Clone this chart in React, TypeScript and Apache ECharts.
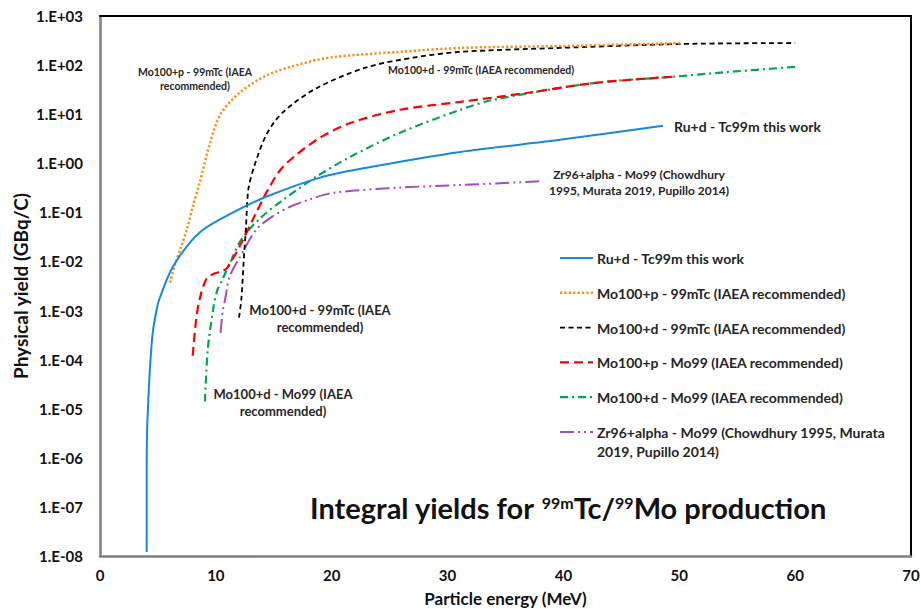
import React, { useEffect, useRef } from "react";
import * as echarts from "echarts";

// ---------- data ----------
const xTicks = [0, 10, 20, 30, 40, 50, 60, 70];
const yExponents = [-8, -7, -6, -5, -4, -3, -2, -1, 0, 1, 2, 3];

const seriesNames = [
  "Ru+d - Tc99m this work",
  "Mo100+p - 99mTc (IAEA recommended)",
  "Mo100+d - 99mTc (IAEA recommended)",
  "Mo100+p - Mo99 (IAEA recommended)",
  "Mo100+d - Mo99 (IAEA recommended)",
  "Zr96+alpha - Mo99 (Chowdhury 1995, Murata 2019, Pupillo 2014)",
];
const legendLabels = [
  "Ru+d - Tc99m this work",
  "Mo100+p - 99mTc (IAEA recommended)",
  "Mo100+d - 99mTc (IAEA recommended)",
  "Mo100+p - Mo99 (IAEA recommended)",
  "Mo100+d - Mo99 (IAEA recommended)",
  "Zr96+alpha - Mo99 (Chowdhury 1995, Murata\n2019, Pupillo 2014)",
];

const ruEnergy = [4.03, 4.03, 4.06, 4.17, 4.32, 4.55, 4.89, 5.12, 6.3, 8.6, 11.5, 14.4, 19.0, 23.0, 31.1, 39.7, 48.6];
const ruYield = [1.2e-8, 5e-7, 3.3e-6, 1.5e-5, 7.2e-5, 3.5e-4, 1.05e-3, 1.7e-3, 7.9e-3, 0.039, 0.1, 0.21, 0.51, 0.81, 1.7, 3.0, 5.8];

const moPTcEnergy = [6.04, 6.5, 7.0, 7.5, 8.0, 8.6, 9.5, 10.4, 12.1, 14.4, 17.3, 20.1, 25.9, 31.1, 40.0, 50.1];
const moPTcYield = [0.0037, 0.009, 0.02, 0.045, 0.13, 0.4, 2.6, 10, 28, 62, 105, 145, 186, 224, 245, 280];

const moDTcEnergy = [12.0, 12.2, 12.4, 12.6, 12.8, 13.3, 14.4, 15.8, 18.7, 23.0, 27.3, 31.1, 39.7, 50.1, 60.0];
const moDTcYield = [7.2e-4, 1.7e-3, 0.01, 0.05, 0.29, 0.85, 4.0, 11, 34, 90, 145, 186, 224, 269, 282];

const moPMoEnergy = [8.0, 8.3, 8.6, 9.2, 9.8, 10.5, 11.0, 12.2, 13.3, 14.5, 15.8, 18.7, 21.6, 25.9, 31.1, 36.8, 42.6, 49.5];
const moPMoYield = [1.2e-4, 6.6e-4, 1.7e-3, 4.5e-3, 5.6e-3, 6.3e-3, 7.5e-3, 0.024, 0.08, 0.29, 0.85, 3.0, 6.6, 12.3, 17.8, 27, 43, 58];

const moDMoEnergy = [9.06, 9.3, 9.8, 10.1, 10.5, 11.2, 12.2, 13.8, 15.8, 18.7, 21.6, 25.9, 31.1, 33.9, 42.6, 49.5, 54.1, 60.0];
const moDMoYield = [1.4e-5, 1.6e-4, 1.2e-3, 2.5e-3, 4e-3, 9e-3, 0.028, 0.075, 0.18, 0.54, 1.35, 4.2, 12.3, 19.5, 43, 58, 72, 92];

const zrEnergy = [10.4, 10.6, 10.8, 11.2, 12.1, 13.5, 14.9, 16.4, 18.0, 20.1, 25.9, 31.1, 38.1];
const zrYield = [3.5e-4, 1.0e-3, 1.7e-3, 5e-3, 0.0126, 0.045, 0.083, 0.13, 0.18, 0.25, 0.32, 0.36, 0.43];

// ---------- styles ----------
const FONT = "Lato, 'Open Sans', sans-serif";
const TEXT = "#111111";
const styles = [
  { color: "#1689DB", width: 2, dash: "solid" as any },
  { color: "#FF8C1A", width: 2.5, dash: [2.2, 2.2] },
  { color: "#000000", width: 1.8, dash: [5, 3.5] },
  { color: "#FF0000", width: 2.2, dash: [9, 5] },
  { color: "#00A651", width: 2.2, dash: [8, 4, 2, 4] },
  { color: "#A24BC4", width: 2, dash: [14, 4, 2, 4, 2, 4] },
];

const allEnergy = [ruEnergy, moPTcEnergy, moDTcEnergy, moPMoEnergy, moDMoEnergy, zrEnergy];
const allYield = [ruYield, moPTcYield, moDTcYield, moPMoYield, moDMoYield, zrYield];

function expLabel(v: number) {
  const e = Math.round(v);
  const s = e >= 0 ? "+" : "-";
  return "1.E" + s + String(Math.abs(e)).padStart(2, "0");
}

export default function App() {
  const ref = useRef<HTMLDivElement>(null);
  useEffect(() => {
    if (!ref.current) return;
    const chart = echarts.init(ref.current, null, { renderer: "svg" });

    const series = seriesNames.map((name, i) => ({
      name,
      type: "line",
      xAxisIndex: 0,
      yAxisIndex: 0,
      showSymbol: false,
      symbol: "none",
      smooth: 0.3,
      clip: true,
      lineStyle: { color: styles[i].color, width: styles[i].width, type: styles[i].dash },
      data: allEnergy[i].map((e, k) => [e, Math.log10(allYield[i][k])]),
      z: 3 + (5 - i),
    }));

    const legendTop = 258;
    const legendStep = 34.8;
    const legendGraphics: any[] = [];
    legendLabels.forEach((lab, i) => {
      const y = legendTop + i * legendStep;
      legendGraphics.push({
        type: "line",
        shape: { x1: 560, y1: y, x2: 593, y2: y },
        style: {
          stroke: styles[i].color,
          lineWidth: styles[i].width,
          lineDash: Array.isArray(styles[i].dash) ? styles[i].dash : null,
        },
      });
      legendGraphics.push({
        type: "text",
        x: 597,
        y: y - 9,
        style: {
          text: lab,
          font: `bold 14px ${FONT}`,
          fill: "#262626",
          lineHeight: 19,
          align: "left",
          verticalAlign: "top",
          textAlign: "left",
          textVerticalAlign: "top",
        },
      });
    });

    const ann = (text: string, x: number, y: number, size: number, lh: number, align: string) => ({
      type: "text",
      x,
      y,
      style: {
        text,
        font: `bold ${size}px ${FONT}`,
        fill: "#262626",
        lineHeight: lh,
        align,
        verticalAlign: "middle",
        textAlign: align,
        textVerticalAlign: "middle",
      },
    });

    const hiddenAxis = {
      axisTick: { show: false },
      axisLabel: { show: false },
      splitLine: { show: false },
    };

    const option: any = {
      animation: false,
      backgroundColor: "#ffffff",
      grid: { left: 100, right: 10, top: 16, bottom: 53, containLabel: false, outerBoundsMode: "none" },
      xAxis: [
        {
          type: "value",
          min: 0,
          max: 70,
          interval: 10,
          position: "bottom",
          name: "Particle energy (MeV)",
          nameLocation: "middle",
          nameGap: 33,
          nameMoveOverlap: false,
          nameTextStyle: { fontFamily: FONT, fontWeight: "bold", fontSize: 17, color: TEXT, lineHeight: 18 },
          axisLine: { show: true, onZero: false, lineStyle: { color: "#7f7f7f", width: 2.5 } },
          axisTick: { show: false },
          splitLine: { show: false },
          axisLabel: { fontFamily: FONT, fontWeight: "bold", fontSize: 15, color: TEXT, margin: 11, lineHeight: 15,
            formatter: (v: number) => (xTicks.includes(v) ? String(v) : "") },
        },
        {
          type: "value",
          min: 0,
          max: 70,
          position: "top",
          axisLine: { show: true, onZero: false, lineStyle: { color: "#000000", width: 2 } },
          ...hiddenAxis,
        },
      ],
      yAxis: [
        {
          type: "value",
          min: -8,
          max: 3,
          interval: 1,
          position: "left",
          name: "Physical yield (GBq/C)",
          nameLocation: "middle",
          nameGap: 70,
          nameMoveOverlap: false,
          nameTextStyle: { fontFamily: FONT, fontWeight: "bold", fontSize: 19, color: TEXT },
          axisLine: { show: true, onZero: false, lineStyle: { color: "#7f7f7f", width: 2.5 } },
          axisTick: { show: false },
          splitLine: { show: false },
          axisLabel: { fontFamily: FONT, fontWeight: "bold", fontSize: 15, color: TEXT, margin: 17,
            formatter: (v: number) => (yExponents.includes(Math.round(v)) ? expLabel(v) : "") },
        },
        {
          type: "value",
          min: -8,
          max: 3,
          position: "right",
          axisLine: { show: true, onZero: false, lineStyle: { color: "#000000", width: 2 } },
          ...hiddenAxis,
        },
      ],
      series,
      graphic: [
        ...legendGraphics,
        ann("Mo100+p - 99mTc (IAEA\nrecommended)", 195, 79, 10.5, 14, "center"),
        ann("Mo100+d - 99mTc (IAEA recommended)", 388, 70, 10.5, 14, "left"),
        ann("Ru+d - Tc99m this work", 674, 126, 14, 18, "left"),
        ann("Zr96+alpha - Mo99 (Chowdhury\n1995, Murata 2019, Pupillo 2014)", 639, 182, 12, 16, "center"),
        ann("Mo100+d - 99mTc (IAEA\nrecommended)", 320, 318.5, 13, 17, "center"),
        ann("Mo100+d - Mo99 (IAEA\nrecommended)", 283, 402.5, 13, 17, "center"),
        {
          type: "text",
          x: 310,
          y: 522,
          style: {
            text: "{a|Integral yields for }{s|99m}{a|Tc/}{s|99}{a|Mo production}",
            font: `bold 29px ${FONT}`,
            fill: "#111111",
            align: "left",
            verticalAlign: "bottom",
            textAlign: "left",
            textVerticalAlign: "bottom",
            rich: {
              a: { fontSize: 29, fontWeight: "bold", fontFamily: FONT, fill: "#111111", lineHeight: 34, verticalAlign: "bottom" },
              s: { fontSize: 16, fontWeight: "bold", fontFamily: FONT, fill: "#111111", lineHeight: 16, verticalAlign: "top", padding: [6, 0, 0, 0] },
            },
          },
        },
      ],
    };
    chart.setOption(option);
    return () => chart.dispose();
  }, []);
  return <div ref={ref} style={{ position: "fixed", left: 0, top: 0, width: 921, height: 609 }} />;
}
